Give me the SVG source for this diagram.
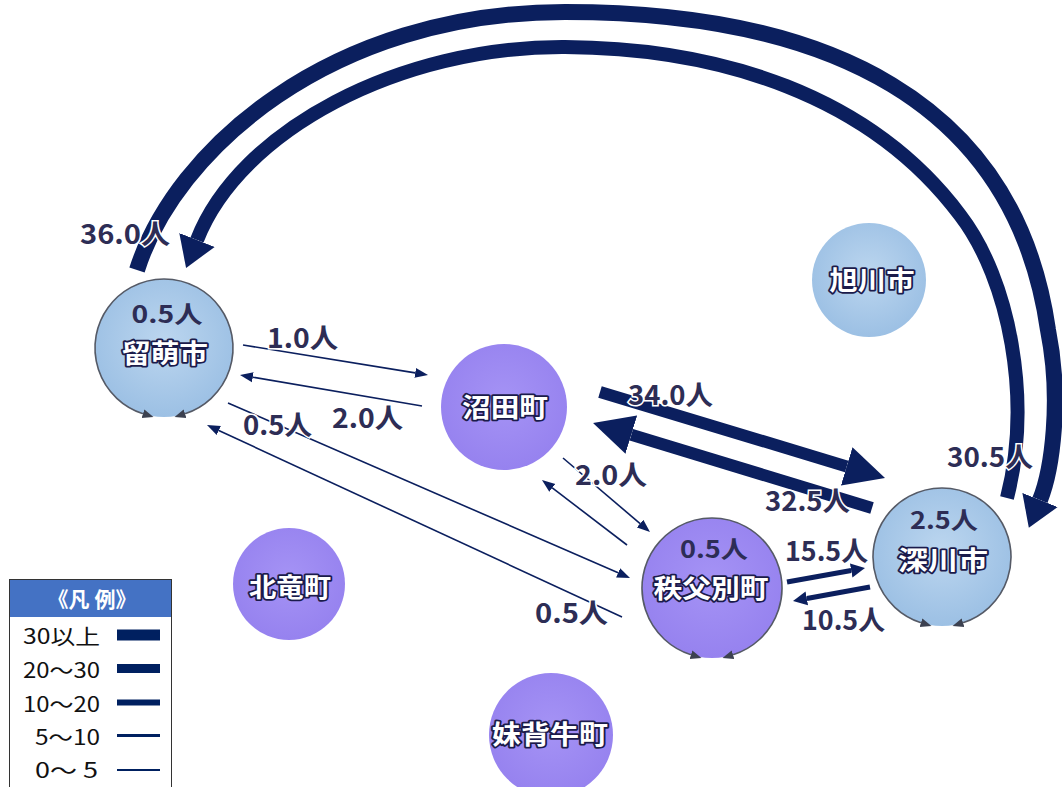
<svg xmlns="http://www.w3.org/2000/svg" width="1062" height="787" viewBox="0 0 1062 787">
<defs>
<style>
.lb{font-family:"Noto Sans CJK JP","Noto Sans",sans-serif;font-weight:700;font-size:27px;fill:#2d2d55;stroke:#ffffff;stroke-width:3;paint-order:stroke;}
.nc{font-family:"Noto Sans CJK JP","Noto Sans",sans-serif;font-weight:700;font-size:24px;fill:#2d2d55;text-anchor:middle;}
.nm{font-family:"Noto Sans CJK JP","Noto Sans",sans-serif;font-weight:700;font-size:26px;fill:#ffffff;stroke:#1b1b4b;stroke-width:3.5;paint-order:stroke;stroke-linejoin:round;text-anchor:middle;}
.blue{fill:url(#gBlue);}
.purp{fill:url(#gPurp);}
.loop{fill:none;stroke:#555a66;stroke-width:1.6;marker-start:url(#mLoop);marker-end:url(#mLoop);}
.arc{fill:none;stroke:#0b1f5e;stroke-linecap:butt;}
.e{fill:none;stroke:#0b1f5e;}
.thin{stroke-width:1.6;marker-end:url(#mThin);}
.med{stroke-width:5;marker-end:url(#mMed);}
.thick{stroke-width:12;marker-end:url(#mThick);}
.lg{font-family:"Noto Sans CJK JP","Noto Sans",sans-serif;font-size:21px;fill:#111111;text-anchor:end;}
.bar{fill:#002060;}
</style>
<radialGradient id="gBlue" cx="50%" cy="45%" r="55%">
<stop offset="0%" stop-color="#bcd6ef"/>
<stop offset="100%" stop-color="#9cc0e4"/>
</radialGradient>
<radialGradient id="gPurp" cx="50%" cy="45%" r="55%">
<stop offset="0%" stop-color="#a593f5"/>
<stop offset="100%" stop-color="#9682ef"/>
</radialGradient>
<marker id="mBig" markerUnits="userSpaceOnUse" viewBox="0 -20 32 40" markerWidth="32" markerHeight="40" refX="0" refY="0" orient="auto">
<path d="M0,-19 L30,0 L0,19 z" fill="#0b1f5e"/>
</marker>
<marker id="mThick" markerUnits="userSpaceOnUse" viewBox="0 -21 42 42" markerWidth="42" markerHeight="42" refX="0" refY="0" orient="auto">
<path d="M0,-20 L40,0 L0,20 z" fill="#0b1f5e"/>
</marker>
<marker id="mMed" markerUnits="userSpaceOnUse" viewBox="0 -8 15 16" markerWidth="15" markerHeight="16" refX="0" refY="0" orient="auto">
<path d="M0,-7 L14,0 L0,7 z" fill="#0b1f5e"/>
</marker>
<marker id="mThin" markerUnits="userSpaceOnUse" viewBox="0 -6 14 12" markerWidth="14" markerHeight="12" refX="0" refY="0" orient="auto">
<path d="M0,-5 L13,0 L0,5 z" fill="#0b1f5e"/>
</marker>
<marker id="mLoop" markerUnits="userSpaceOnUse" viewBox="0 -6 12 12" markerWidth="12" markerHeight="12" refX="0" refY="0" orient="auto-start-reverse">
<path d="M0,-4.5 L11,0 L0,4.5 z" fill="#3c4150"/>
</marker>
</defs>
<rect x="0" y="0" width="1062" height="787" fill="#ffffff"/>

<g id="node-rumoi">
<circle cx="164" cy="348" r="69" class="blue"/>
<path class="loop" d="M185,413.7 A69,69 0 1 0 143,413.7"/>
<text class="nc" x="167" y="323" textLength="71" lengthAdjust="spacingAndGlyphs">0.5人</text>
<text class="nm" x="165" y="363" textLength="86" lengthAdjust="spacingAndGlyphs">留萌市</text>
</g>
<g id="node-numata">
<circle cx="504" cy="407" r="63" class="purp"/>
<text class="nm" x="505" y="417" textLength="86" lengthAdjust="spacingAndGlyphs">沼田町</text>
</g>
<g id="node-asahikawa">
<circle cx="869" cy="280" r="57" class="blue"/>
<text class="nm" x="872" y="290" textLength="85" lengthAdjust="spacingAndGlyphs">旭川市</text>
</g>
<g id="node-hokuryu">
<circle cx="289" cy="584" r="56" class="purp"/>
<text class="nm" x="290" y="597" textLength="82" lengthAdjust="spacingAndGlyphs">北竜町</text>
</g>
<g id="node-moseushi">
<circle cx="551" cy="735" r="62" class="purp"/>
<text class="nm" x="550" y="744" textLength="116" lengthAdjust="spacingAndGlyphs">妹背牛町</text>
</g>
<g id="node-chippubetsu">
<circle cx="712" cy="588" r="70" class="purp"/>
<path class="loop" d="M733,654.8 A70,70 0 1 0 691,654.8"/>
<text class="nc" x="714" y="558" textLength="68" lengthAdjust="spacingAndGlyphs">0.5人</text>
<text class="nm" x="711" y="598" textLength="115" lengthAdjust="spacingAndGlyphs">秩父別町</text>
</g>
<g id="node-fukagawa">
<circle cx="942" cy="557" r="69" class="blue"/>
<path class="loop" d="M963,622.7 A69,69 0 1 0 921,622.7"/>
<text class="nc" x="944" y="529" textLength="68" lengthAdjust="spacingAndGlyphs">2.5人</text>
<text class="nm" x="943" y="570" textLength="90" lengthAdjust="spacingAndGlyphs">深川市</text>
</g>

<g id="connectors">
<path class="arc" stroke-width="16" marker-end="url(#mBig)" d="M137,270 C175,150 330,12 565,12 C825,12 1015,100 1048,330 C1062,400 1052,470 1040,500"/>
<path class="arc" stroke-width="14" marker-end="url(#mBig)" d="M1007,498 C1032,400 1010,280 960,215 C870,95 720,48 565,47 C400,46 240,130 197,240"/>
<path class="e thick" d="M600,392 L846.7,466.4"/>
<path class="e thick" stroke-width="13" d="M872,508 L631.3,434.7"/>
<path class="e thin" d="M243,345 L415.2,372.9"/>
<path class="e thin" d="M422,406 L252.8,377.2"/>
<path class="e thin" d="M228,403 L618.1,572.8"/>
<path class="e thin" d="M622,617 L218.8,430.5"/>
<path class="e thin" d="M563,458 L640.1,523.6"/>
<path class="e thin" d="M627,545 L552.3,487.9"/>
<path class="e med" d="M787,582 L851.2,570.5"/>
<path class="e med" d="M870,587 L806.8,598.5"/>
</g>

<g id="edge-labels">
<text class="lb" x="80" y="244" textLength="90" lengthAdjust="spacingAndGlyphs">36.0人</text>
<text class="lb" x="947" y="467" textLength="86" lengthAdjust="spacingAndGlyphs">30.5人</text>
<text class="lb" x="267" y="348" textLength="71" lengthAdjust="spacingAndGlyphs">1.0人</text>
<text class="lb" x="332" y="428" textLength="71" lengthAdjust="spacingAndGlyphs">2.0人</text>
<text class="lb" x="243" y="435" textLength="69" lengthAdjust="spacingAndGlyphs">0.5人</text>
<text class="lb" x="535" y="623" textLength="73" lengthAdjust="spacingAndGlyphs">0.5人</text>
<text class="lb" x="628" y="405" textLength="85" lengthAdjust="spacingAndGlyphs">34.0人</text>
<text class="lb" x="765" y="511" textLength="85" lengthAdjust="spacingAndGlyphs">32.5人</text>
<text class="lb" x="575" y="485" textLength="72" lengthAdjust="spacingAndGlyphs">2.0人</text>
<text class="lb" x="785" y="561" textLength="83" lengthAdjust="spacingAndGlyphs">15.5人</text>
<text class="lb" x="802" y="630" textLength="83" lengthAdjust="spacingAndGlyphs">10.5人</text>
</g>

<g id="legend">
<rect x="9.5" y="579.5" width="162" height="220" fill="#ffffff" stroke="#333333" stroke-width="1"/>
<rect x="10" y="580" width="161" height="37" fill="#4472c4"/>
<text x="92" y="607" text-anchor="middle" font-family="'Noto Sans CJK JP','Noto Sans',sans-serif" font-size="21" font-weight="700" fill="#ffffff">《凡 例》</text>
<text class="lg" x="100" y="644" textLength="77" lengthAdjust="spacingAndGlyphs">30以上</text>
<rect class="bar" x="117" y="629.5" width="43" height="11"/>
<text class="lg" x="100" y="678" textLength="77" lengthAdjust="spacingAndGlyphs">20～30</text>
<rect class="bar" x="117" y="664" width="43" height="9"/>
<text class="lg" x="100" y="712" textLength="77" lengthAdjust="spacingAndGlyphs">10～20</text>
<rect class="bar" x="117" y="699.5" width="43" height="6"/>
<text class="lg" x="100" y="745" textLength="65" lengthAdjust="spacingAndGlyphs">5～10</text>
<rect class="bar" x="117" y="734" width="43" height="3"/>
<text class="lg" x="98" y="778" textLength="63" lengthAdjust="spacingAndGlyphs">0～ 5</text>
<rect class="bar" x="117" y="769" width="43" height="2"/>
</g>
</svg>
